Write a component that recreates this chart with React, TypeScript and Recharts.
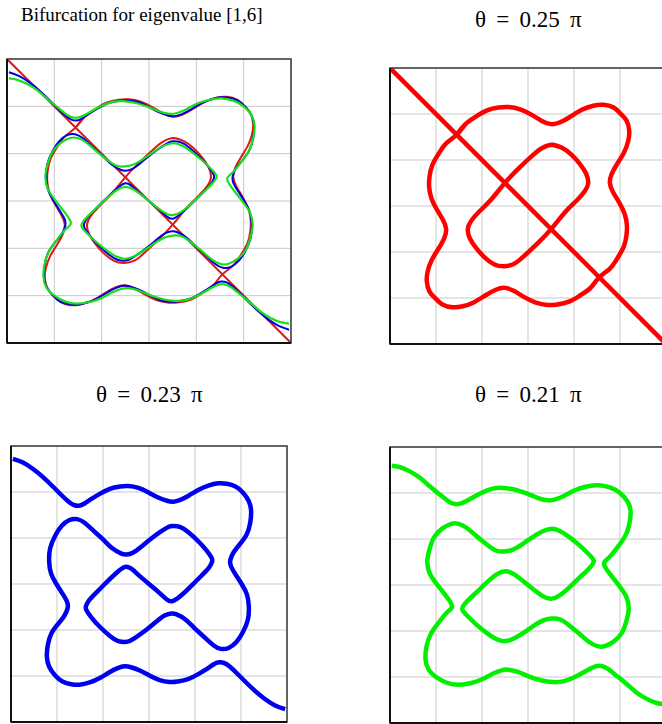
import React from 'react';
import {
  ComposedChart,
  Line,
  XAxis,
  YAxis,
  CartesianGrid,
  ReferenceArea,
  ReferenceLine,
} from 'recharts';

// Nodal curves on the square [0,6]x[0,6] (x to the right, y downward),
// one unit per grid cell.

// θ = 0.25π : straight nodal line
const redDiagonal: number[][] = [
  [0, 0], [6, 6],
];

// θ = 0.25π : outer closed curve
const redOuter: number[][] = [
  [1.44, 1.46], [1.64, 1.22], [1.86, 1.06], [2.11, 0.92], [2.36, 0.86], [2.58, 0.85],
  [2.83, 0.9], [3.08, 1.02], [3.3, 1.15], [3.5, 1.22], [3.7, 1.18], [3.92, 1.06],
  [4.17, 0.91], [4.42, 0.82], [4.64, 0.8], [4.86, 0.86], [5.01, 0.99],
  [5.14, 1.14], [5.2, 1.36], [5.18, 1.58], [5.09, 1.83], [4.94, 2.08], [4.82, 2.3],
  [4.78, 2.5], [4.85, 2.7], [4.98, 2.92], [5.1, 3.17], [5.15, 3.42], [5.14, 3.64],
  [5.08, 3.89], [4.94, 4.14], [4.78, 4.36], [4.54, 4.56],
  [4.36, 4.78], [4.14, 4.94], [3.89, 5.08], [3.64, 5.14], [3.42, 5.15], [3.17, 5.1],
  [2.92, 4.98], [2.7, 4.85], [2.5, 4.78], [2.3, 4.82], [2.08, 4.94], [1.83, 5.09],
  [1.58, 5.18], [1.36, 5.2], [1.14, 5.14], [0.99, 5.01],
  [0.86, 4.86], [0.8, 4.64], [0.82, 4.42], [0.91, 4.17], [1.06, 3.92], [1.18, 3.7],
  [1.22, 3.5], [1.15, 3.3], [1.02, 3.08], [0.9, 2.83], [0.85, 2.58], [0.86, 2.36],
  [0.92, 2.11], [1.06, 1.86], [1.22, 1.64], [1.44, 1.46], [1.64, 1.22],
];

// θ = 0.25π : inner closed curve
const redInner: number[][] = [
  [3.52, 1.67], [3.73, 1.73], [3.95, 1.89], [4.13, 2.09], [4.26, 2.29], [4.31, 2.49],
  [4.24, 2.67], [4.06, 2.88], [3.81, 3.13], [3.52, 3.48], [3.23, 3.79], [2.9, 4.1],
  [2.69, 4.26], [2.48, 4.31], [2.27, 4.27], [2.05, 4.11], [1.87, 3.91], [1.74, 3.71],
  [1.69, 3.51], [1.76, 3.33], [1.94, 3.12], [2.19, 2.87], [2.48, 2.52], [2.77, 2.21],
  [3.1, 1.9], [3.31, 1.74], [3.52, 1.67], [3.73, 1.73],
];

// θ = 0.23π : single open curve, edge to edge
const blueCurve: number[][] = [
  [0.04, 0.28], [0.26, 0.36], [0.48, 0.5], [0.69, 0.67], [0.91, 0.88], [1.09, 1.06],
  [1.24, 1.2], [1.36, 1.28], [1.48, 1.3], [1.6, 1.25], [1.75, 1.15], [1.93, 1.04],
  [2.15, 0.93], [2.37, 0.88], [2.55, 0.87], [2.77, 0.91], [2.99, 1.01], [3.2, 1.12],
  [3.39, 1.19], [3.53, 1.21], [3.68, 1.17], [3.86, 1.08], [4.08, 0.95], [4.29, 0.86],
  [4.51, 0.81], [4.69, 0.82], [4.88, 0.88], [5.04, 1.01], [5.17, 1.2], [5.22, 1.42],
  [5.2, 1.67], [5.12, 1.93], [4.97, 2.14], [4.84, 2.31], [4.77, 2.47], [4.78, 2.61],
  [4.88, 2.79], [5.02, 3.01], [5.13, 3.23], [5.17, 3.48], [5.15, 3.77], [5.04, 4.05],
  [4.9, 4.26], [4.73, 4.39], [4.56, 4.41], [4.4, 4.33], [4.22, 4.17], [4.0, 3.97],
  [3.79, 3.77], [3.6, 3.66], [3.49, 3.64], [3.35, 3.68], [3.17, 3.81], [2.95, 3.99],
  [2.73, 4.15], [2.58, 4.24], [2.48, 4.26], [2.33, 4.24], [2.15, 4.13], [1.93, 3.93],
  [1.75, 3.73], [1.64, 3.57], [1.63, 3.48], [1.7, 3.35], [1.86, 3.18], [2.08, 2.96],
  [2.29, 2.76], [2.48, 2.63], [2.62, 2.67], [2.8, 2.83], [3.0, 3.0],
  [3.2, 3.17], [3.38, 3.33], [3.52, 3.37], [3.71, 3.24], [3.92, 3.04], [4.14, 2.82],
  [4.3, 2.65], [4.37, 2.52], [4.36, 2.43], [4.25, 2.27], [4.07, 2.07], [3.85, 1.87],
  [3.67, 1.76], [3.52, 1.74], [3.42, 1.76], [3.27, 1.85], [3.05, 2.01], [2.83, 2.19],
  [2.65, 2.32], [2.51, 2.36], [2.4, 2.34], [2.21, 2.23], [2.0, 2.03], [1.78, 1.83],
  [1.6, 1.67], [1.44, 1.59], [1.27, 1.61], [1.1, 1.74], [0.96, 1.95], [0.85, 2.23],
  [0.83, 2.52], [0.87, 2.77], [0.98, 2.99], [1.12, 3.21], [1.22, 3.39], [1.23, 3.53],
  [1.16, 3.69], [1.03, 3.86], [0.88, 4.07], [0.8, 4.33], [0.78, 4.58], [0.83, 4.8],
  [0.96, 4.99], [1.12, 5.12], [1.31, 5.18], [1.49, 5.19], [1.71, 5.14], [1.92, 5.05],
  [2.14, 4.92], [2.32, 4.83], [2.47, 4.79], [2.61, 4.81], [2.8, 4.88], [3.01, 4.99],
  [3.23, 5.09], [3.45, 5.13], [3.63, 5.12], [3.85, 5.07], [4.07, 4.96], [4.25, 4.85],
  [4.4, 4.75], [4.52, 4.7], [4.64, 4.72], [4.76, 4.8], [4.91, 4.94], [5.09, 5.12],
  [5.31, 5.33], [5.52, 5.5], [5.74, 5.64], [5.96, 5.72],
];

// θ = 0.21π : single open curve, edge to edge
const greenCurve: number[][] = [
  [0.04, 0.41], [0.22, 0.44], [0.43, 0.53], [0.65, 0.67], [0.87, 0.86], [1.09, 1.04],
  [1.27, 1.18], [1.41, 1.24], [1.56, 1.22], [1.74, 1.13], [1.96, 1.01], [2.21, 0.91],
  [2.46, 0.89], [2.72, 0.93], [2.97, 1.01], [3.22, 1.11], [3.44, 1.16], [3.59, 1.14],
  [3.77, 1.07], [4.02, 0.94], [4.28, 0.86], [4.53, 0.83], [4.78, 0.88], [5.0, 1.0],
  [5.16, 1.18], [5.23, 1.4], [5.2, 1.69], [5.11, 1.94], [4.96, 2.16], [4.82, 2.34],
  [4.7, 2.46], [4.65, 2.53], [4.7, 2.65], [4.82, 2.81], [4.99, 3.03], [5.13, 3.24],
  [5.19, 3.5], [5.14, 3.78], [5.04, 4.04], [4.86, 4.23], [4.67, 4.33], [4.51, 4.33],
  [4.33, 4.24], [4.13, 4.07], [3.91, 3.89], [3.7, 3.75], [3.51, 3.73], [3.33, 3.77],
  [3.12, 3.89], [2.9, 4.04], [2.68, 4.17], [2.5, 4.22], [2.32, 4.18], [2.1, 4.04],
  [1.88, 3.86], [1.69, 3.68], [1.58, 3.55], [1.59, 3.46], [1.7, 3.33], [1.88, 3.16],
  [2.1, 2.95], [2.32, 2.77], [2.5, 2.7], [2.68, 2.76], [2.9, 2.92], [3.0, 3.0],
  [3.1, 3.08], [3.32, 3.24], [3.5, 3.3], [3.68, 3.23], [3.9, 3.05], [4.12, 2.84],
  [4.3, 2.67], [4.41, 2.54], [4.42, 2.45], [4.31, 2.32], [4.12, 2.14], [3.9, 1.96],
  [3.68, 1.82], [3.5, 1.78], [3.32, 1.83], [3.1, 1.96], [2.88, 2.11], [2.67, 2.23],
  [2.49, 2.27], [2.3, 2.25], [2.09, 2.11], [1.87, 1.93], [1.67, 1.76], [1.49, 1.67],
  [1.33, 1.67], [1.14, 1.77], [0.96, 1.96], [0.86, 2.22], [0.81, 2.5], [0.87, 2.76],
  [1.01, 2.97], [1.18, 3.19], [1.3, 3.35], [1.35, 3.47], [1.3, 3.54], [1.18, 3.66],
  [1.04, 3.84], [0.89, 4.06], [0.8, 4.31], [0.77, 4.6], [0.84, 4.84], [1.0, 5.0],
  [1.22, 5.12], [1.47, 5.17], [1.72, 5.14], [1.98, 5.06], [2.23, 4.93], [2.41, 4.86],
  [2.56, 4.84], [2.78, 4.89], [3.03, 4.99], [3.28, 5.07], [3.54, 5.11], [3.79, 5.09],
  [4.04, 4.99], [4.26, 4.87], [4.44, 4.78], [4.59, 4.76], [4.73, 4.82], [4.91, 4.96],
  [5.13, 5.14], [5.35, 5.33], [5.57, 5.47], [5.78, 5.56], [5.96, 5.59],
];

const gridTicks = [1, 2, 3, 4, 5];

const mainTitle = 'Bifurcation for eigenvalue [1,6]';
const panelTitles = ['θ = 0.25 π', 'θ = 0.23 π', 'θ = 0.21 π'];

type Pt = { x: number; y: number };
const toPts = (pairs: number[][]): Pt[] => pairs.map(([x, y]) => ({ x, y }));

type Series = {
  id: string;
  pts: Pt[];
  color: string;
  width: number;
  curve: 'natural' | 'linear';
};

const serif = "'Liberation Serif', 'DejaVu Serif', serif";

function Panel({ left, top, size, series }: { left: number; top: number; size: number; series: Series[] }) {
  const pad = 3;
  return (
    <div style={{ position: 'absolute', left: left - pad, top: top - pad }}>
      <ComposedChart
        width={size + 2 * pad}
        height={size + 2 * pad}
        margin={{ top: pad, right: pad, bottom: pad, left: pad }}
      >
        <XAxis type="number" dataKey="x" domain={[0, 6]} ticks={gridTicks} hide allowDataOverflow />
        <YAxis type="number" dataKey="y" domain={[0, 6]} ticks={gridTicks} hide reversed allowDataOverflow />
        <CartesianGrid stroke="#c9c9c9" strokeWidth={1} />
        {series.map((s) => (
          <Line
            key={s.id}
            data={s.pts}
            dataKey="y"
            type={s.curve}
            stroke={s.color}
            strokeWidth={s.width}
            strokeLinejoin="round"
            dot={false}
            activeDot={false}
            isAnimationActive={false}
          />
        ))}
        <ReferenceArea x1={0} x2={6} y1={0} y2={6} fill="none" stroke="#3a3a3a" strokeWidth={1.5} ifOverflow="visible" />
        <ReferenceLine x={0} stroke="#111" strokeWidth={2} ifOverflow="visible" />
        <ReferenceLine y={6} stroke="#111" strokeWidth={2} ifOverflow="visible" />
      </ComposedChart>
    </div>
  );
}

export default function App() {
  const thin = 2;
  const thick = 4.5;
  const overlay: Series[] = [
    { id: 'rd', pts: toPts(redDiagonal), color: '#e01818', width: thin, curve: 'linear' },
    { id: 'ro', pts: toPts(redOuter), color: '#e01818', width: thin, curve: 'natural' },
    { id: 'ri', pts: toPts(redInner), color: '#e01818', width: thin, curve: 'natural' },
    { id: 'b', pts: toPts(blueCurve), color: '#0000e0', width: thin, curve: 'natural' },
    { id: 'g', pts: toPts(greenCurve), color: '#18e018', width: 2.2, curve: 'natural' },
  ];
  const redOnly: Series[] = [
    { id: 'rd', pts: toPts(redDiagonal), color: '#ff0000', width: thick, curve: 'linear' },
    { id: 'ro', pts: toPts(redOuter), color: '#ff0000', width: thick, curve: 'natural' },
    { id: 'ri', pts: toPts(redInner), color: '#ff0000', width: thick, curve: 'natural' },
  ];
  const blueOnly: Series[] = [
    { id: 'b', pts: toPts(blueCurve), color: '#0000f0', width: thick, curve: 'natural' },
  ];
  const greenOnly: Series[] = [
    { id: 'g', pts: toPts(greenCurve), color: '#00f000', width: thick, curve: 'natural' },
  ];

  const titleBase: React.CSSProperties = {
    position: 'absolute',
    fontFamily: serif,
    whiteSpace: 'nowrap',
    color: '#000',
  };
  const thetaStyle: React.CSSProperties = { ...titleBase, fontSize: 23, lineHeight: '23px', wordSpacing: 4.5 };

  return (
    <div
      style={{
        position: 'absolute',
        left: 0,
        top: 0,
        width: 662,
        height: 724,
        overflow: 'hidden',
        background: '#fff',
      }}
    >
      <div style={{ ...titleBase, left: 21, top: 5, fontSize: 19, lineHeight: '19px' }}>{mainTitle}</div>
      <div style={{ ...thetaStyle, left: 475, top: 8 }}>{panelTitles[0]}</div>
      <div style={{ ...thetaStyle, left: 96, top: 383 }}>{panelTitles[1]}</div>
      <div style={{ ...thetaStyle, left: 475, top: 383 }}>{panelTitles[2]}</div>

      <Panel left={7} top={59} size={284} series={overlay} />
      <Panel left={389.6} top={68} size={276} series={redOnly} />
      <Panel left={11} top={446} size={276} series={blueOnly} />
      <Panel left={389.5} top={447.3} size={276} series={greenOnly} />
    </div>
  );
}
